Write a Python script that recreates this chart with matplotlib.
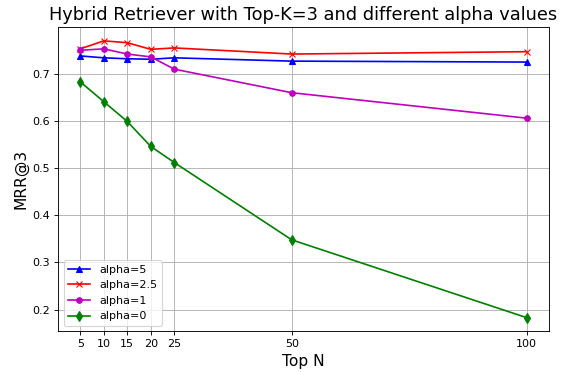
import matplotlib
matplotlib.use('Agg')
import matplotlib.pyplot as plt

top_n = [5, 10, 15, 20, 25, 50, 100]
mrr_alpha5 = [0.738, 0.734, 0.732, 0.731, 0.734, 0.727, 0.725]
mrr_alpha25 = [0.753, 0.770, 0.766, 0.752, 0.755, 0.742, 0.747]
mrr_alpha1 = [0.750, 0.753, 0.742, 0.736, 0.710, 0.660, 0.606]
mrr_alpha0 = [0.683, 0.641, 0.599, 0.546, 0.512, 0.348, 0.183]

# drawn at a lower dpi so the default sizes shrink like the original
fig = plt.figure(figsize=(7.05, 4.65), dpi=80)
ax = fig.add_axes([0.1028, 0.1089, 0.8706, 0.8185])

ax.plot(top_n, mrr_alpha5, 'b^-', label='alpha=5')
ax.plot(top_n, mrr_alpha25, 'rx-', label='alpha=2.5')
ax.plot(top_n, mrr_alpha1, 'mo-', label='alpha=1', markersize=5)
ax.plot(top_n, mrr_alpha0, 'gd-', label='alpha=0')

ax.set_xticks(top_n)
ax.grid(True)
ax.set_title('Hybrid Retriever with Top-K=3 and different alpha values', fontsize=16)
ax.set_xlabel('Top N', fontsize=14)
ax.set_ylabel('MRR@3', fontsize=14)
ax.legend(loc='lower left')

fig.savefig('out.png', dpi=80)
